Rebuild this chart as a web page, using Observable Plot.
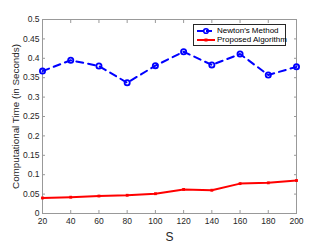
<!DOCTYPE html>
<html><head><meta charset="utf-8">
<script src="https://cdn.jsdelivr.net/npm/d3@7"></script>
<script src="https://cdn.jsdelivr.net/npm/@observablehq/plot@0.6"></script>
<style>
body{margin:0;background:#fff;font-family:"Liberation Sans",Arial,sans-serif;}
#wrap{position:relative;width:327px;height:245px;}
#legend{position:absolute;left:193px;top:24px;width:93px;height:22px;border:1px solid #262626;background:#fff;font-size:8px;color:#000;line-height:10px;box-sizing:border-box;padding-top:1px;}
#legend .row{display:flex;align-items:center;height:9.5px;padding-left:2px;white-space:nowrap;}
#legend svg{margin-right:1px;flex:none;}
</style></head><body>
<div id="wrap"></div>
<script>
const S = [20,40,60,80,100,120,140,160,180,200];
const newton = [0.367,0.395,0.380,0.337,0.381,0.417,0.383,0.411,0.357,0.378];
const proposed = [0.040,0.042,0.045,0.047,0.051,0.062,0.060,0.077,0.079,0.085];
const seriesNames = ["Newton\u2032s Method","Proposed Algorithm"];
const yTicks = d3.range(0, 0.501, 0.05).map(v => +v.toFixed(2));

const dN = S.map((s,i)=>({s, v:newton[i]}));
const dP = S.map((s,i)=>({s, v:proposed[i]}));
const fmt = v => v === 0 ? "0" : String(+v.toFixed(2));

const axisColor = "#262626";
const chart = Plot.plot({
  width: 327, height: 245,
  marginLeft: 42, marginRight: 31, marginTop: 19, marginBottom: 32,
  style: {fontFamily: "Liberation Sans, Arial, sans-serif", fontSize: "8.5px", color: axisColor, background: "#fff"},
  x: {domain: [20, 200]},
  y: {domain: [0, 0.5]},
  marks: [
    Plot.frame({stroke: "#999", strokeWidth: 1}),
    Plot.axisX({ticks: S, tickSize: -3, tickPadding: 7, tickFormat: d => d, label: "S", labelAnchor: "center", labelArrow: "none", labelOffset: 27, stroke: "#999"}),
    Plot.axisX({anchor: "top", ticks: S, tickSize: -3, tickFormat: () => "", label: null, stroke: "#999"}),
    Plot.axisY({ticks: yTicks, tickSize: -3, tickPadding: 6, tickFormat: fmt, label: "Computational Time (in Seconds)", labelAnchor: "center", labelArrow: "none", labelOffset: 30, stroke: "#999"}),
    Plot.axisY({anchor: "right", ticks: yTicks, tickSize: -3, tickFormat: () => "", label: null, stroke: "#999"}),
    Plot.line(dN, {x: "s", y: "v", stroke: "#0000ff", strokeWidth: 2, strokeDasharray: "7,5"}),
    Plot.dot(dN, {x: "s", y: "v", r: 2.6, stroke: "#0000ff", strokeWidth: 1.8, fill: "none"}),
    Plot.line(dP, {x: "s", y: "v", stroke: "#ff0000", strokeWidth: 2}),
    Plot.dot(dP, {x: "s", y: "v", r: 1.6, fill: "#ff0000", symbol: "square"})
  ]
});
d3.select(chart).selectAll('[aria-label="x-axis label"] text').style("font-size","12px");
d3.select(chart).selectAll('[aria-label="y-axis label"] text').style("font-size","9.8px");
const wrap = document.getElementById("wrap");
wrap.appendChild(chart);

const leg = document.createElement("div");
leg.id = "legend";
leg.innerHTML = `
<div class="row"><svg width="20" height="8"><line x1="1" y1="4" x2="19" y2="4" stroke="#0000ff" stroke-width="2" stroke-dasharray="6,3"/><circle cx="10" cy="4" r="2.3" fill="none" stroke="#0000ff" stroke-width="1.6"/></svg>${seriesNames[0]}</div>
<div class="row"><svg width="20" height="8"><line x1="1" y1="4" x2="19" y2="4" stroke="#ff0000" stroke-width="2"/><rect x="8.5" y="2.5" width="3" height="3" fill="#ff0000"/></svg>${seriesNames[1]}</div>`;
wrap.appendChild(leg);
</script>
</body></html>
